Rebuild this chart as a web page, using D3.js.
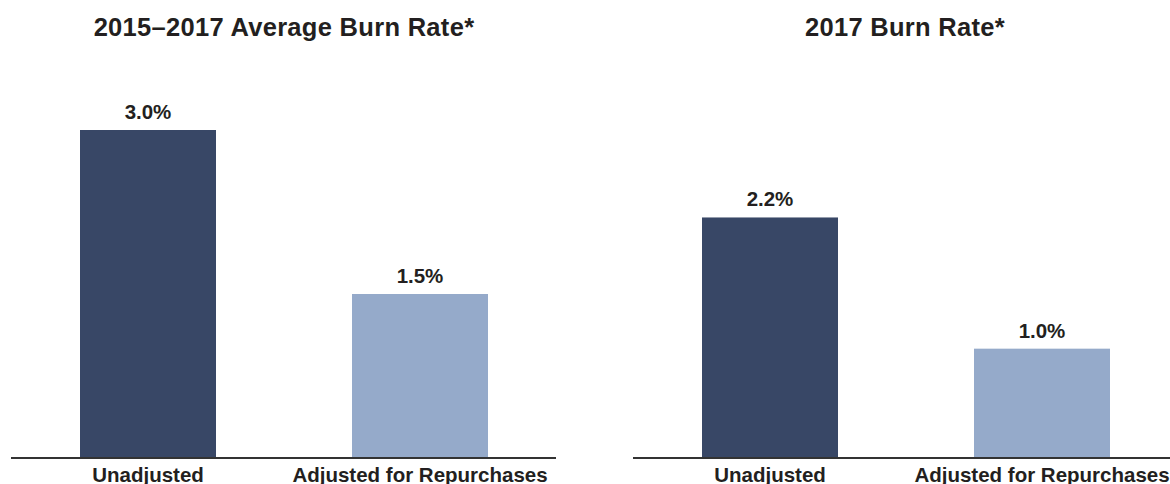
<!DOCTYPE html>
<html>
<head>
<meta charset="utf-8">
<script src="https://cdn.jsdelivr.net/npm/d3@7"></script>
<style>
  html, body { margin: 0; padding: 0; background: #fff; }
  svg { display: block; }
  text { font-family: "Liberation Sans", Arial, sans-serif; font-weight: bold; fill: #231f20; }
</style>
</head>
<body>
<div id="chart"></div>
<script>
// Burn-rate figures, one panel per period
const panelTitles = ["2015\u20132017 Average Burn Rate*", "2017 Burn Rate*"];
const categories = ["Unadjusted", "Adjusted for Repurchases"];
const averageValues = [3.0, 1.5];
const yearValues = [2.2, 1.0];
const seriesByPanel = [averageValues, yearValues];

const width = 1170, height = 484;
const baseline = 458;
const colors = ["#384766", "#95aaca"];

const svg = d3.select("#chart").append("svg")
  .attr("width", width).attr("height", height);

// Shared value scale so both panels are comparable
const y = d3.scaleLinear().domain([0, 3.0]).range([baseline, 130]);

const panelRanges = [[12, 556], [634, 1178]];

panelRanges.forEach((range, p) => {
  const x = d3.scaleBand()
    .domain(categories)
    .range(range)
    .paddingInner(0.5)
    .paddingOuter(0.25);

  const g = svg.append("g");
  const values = seriesByPanel[p];
  const rows = categories.map((c, i) => ({ cat: c, value: values[i], i }));

  // Panel title
  g.append("text")
    .attr("x", (range[0] + range[1]) / 2 + (p === 1 ? -1 : 0))
    .attr("y", 36)
    .attr("text-anchor", "middle")
    .style("font-size", "25.5px")
    .style("letter-spacing", "0.3px")
    .text(panelTitles[p]);

  // Bars
  g.selectAll("rect.bar").data(rows).enter().append("rect")
    .attr("class", "bar")
    .attr("x", d => x(d.cat))
    .attr("y", d => y(d.value))
    .attr("width", x.bandwidth())
    .attr("height", d => y(0) - y(d.value))
    .attr("fill", d => colors[d.i]);

  // Value labels
  g.selectAll("text.value").data(rows).enter().append("text")
    .attr("class", "value")
    .attr("x", d => x(d.cat) + x.bandwidth() / 2)
    .attr("y", d => y(d.value) - 11)
    .attr("text-anchor", "middle")
    .style("font-size", "20.5px")
    .text(d => d.value.toFixed(1) + "%");

  // Baseline axis with category labels
  const axis = d3.axisBottom(x).tickSize(0).tickPadding(0);
  const ax = g.append("g")
    .attr("transform", `translate(0,${baseline})`)
    .call(axis);
  ax.select(".domain")
    .attr("d", `M${range[0] - 1},0H${Math.min(range[1], width + 10)}`)
    .attr("stroke", "#333")
    .attr("stroke-width", 2);
  ax.selectAll(".tick text")
    .attr("y", 24)
    .attr("dy", 0)
    .style("font-size", "20.5px")
    .style("font-family", "'Liberation Sans', Arial, sans-serif")
    .style("font-weight", "bold")
    .attr("fill", "#231f20");
});
</script>
</body>
</html>
